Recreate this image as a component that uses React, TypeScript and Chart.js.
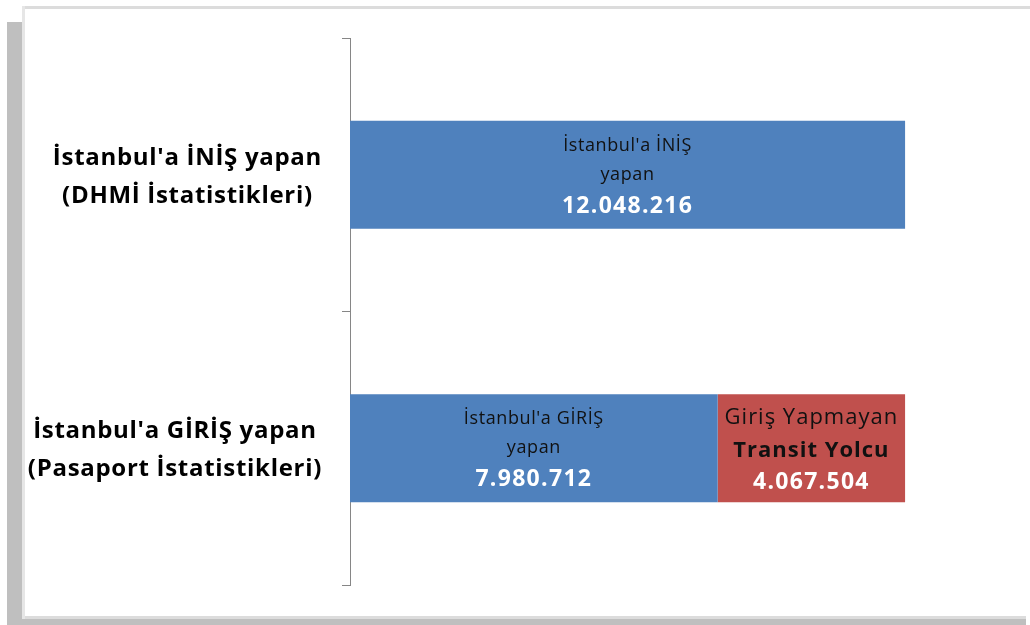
import React, { useEffect, useRef } from "react";
import { Chart, registerables } from "chart.js";

Chart.register(...registerables);

// ---- data ----
const categoryLabels: string[][] = [
  ["İstanbul'a İNİŞ yapan", "(DHMİ İstatistikleri)"],
  ["İstanbul'a GİRİŞ yapan", "(Pasaport İstatistikleri)"],
];
const arrivalValues: number[] = [12048216, 7980712];
const transitValues: (number | null)[] = [null, 4067504];
const arrivalPointLabels: string[][] = [
  ["İstanbul'a İNİŞ", "yapan"],
  ["İstanbul'a GİRİŞ", "yapan"],
];
const transitPointLabels: string[][] = [[], ["Giriş Yapmayan", "Transit Yolcu"]];
const xAxisMax = 14000000;

const FONT = "'Open Sans', 'Noto Sans', sans-serif";
const BLUE = "#4F81BD";
const RED = "#C0504D";

const fmt = (v: number) => String(v).replace(/\B(?=(\d{3})+(?!\d))/g, ".");

const setLS = (ctx: any, px: number) => {
  try {
    ctx.letterSpacing = px + "px";
  } catch (e) {}
};

const framePlugin = {
  id: "frame",
  beforeDraw(chart: any) {
    const ctx = chart.ctx;
    ctx.save();
    ctx.fillStyle = "#ffffff";
    ctx.fillRect(0, 0, chart.width, chart.height);
    // shadow
    ctx.fillStyle = "#bfbfbf";
    ctx.fillRect(7, 22, 16, 603);
    ctx.fillRect(7, 619, 1019, 6);
    // panel border
    ctx.fillStyle = "#dcdcdc";
    ctx.fillRect(22, 6, 1008, 3);
    ctx.fillRect(22, 616, 1004, 3);
    ctx.fillStyle = "#e6e6e6";
    ctx.fillRect(22, 6, 3, 613);
    ctx.restore();
  },
};

const categoryLabelPlugin = {
  id: "catLabels",
  afterDraw(chart: any) {
    const ctx = chart.ctx;
    const yScale = chart.scales.y;
    ctx.save();
    ctx.font = `bold 24px ${FONT}`;
    setLS(ctx, 0.7);
    ctx.fillStyle = "#000000";
    ctx.textAlign = "center";
    ctx.textBaseline = "alphabetic";
    const right = 322;
    categoryLabels.forEach((lines, i) => {
      const yc = yScale.getPixelForTick(i);
      const widest = Math.max(...lines.map((l) => ctx.measureText(l).width));
      const cx = right - widest / 2;
      ctx.fillText(lines[0], cx, yc - 10);
      ctx.fillText(lines[1], cx, yc + 28);
    });
    ctx.restore();
  },
};

const valueLabelPlugin = {
  id: "valueLabels",
  afterDatasetsDraw(chart: any) {
    const ctx = chart.ctx;
    ctx.save();
    ctx.textAlign = "center";
    ctx.textBaseline = "alphabetic";
    chart.data.datasets.forEach((ds: any, di: number) => {
      const meta = chart.getDatasetMeta(di);
      meta.data.forEach((el: any, i: number) => {
        const v = ds.data[i];
        if (v == null) return;
        const cx = (el.x + el.base) / 2;
        const cy = el.y;
        if (di === 0) {
          const lines = arrivalPointLabels[i];
          ctx.font = `18px ${FONT}`;
          setLS(ctx, 0.6);
          ctx.fillStyle = "#111111";
          ctx.fillText(lines[0], cx, cy - 24);
          ctx.fillText(lines[1], cx, cy + 5);
          ctx.font = `bold 23px ${FONT}`;
          setLS(ctx, 1.3);
          ctx.fillStyle = "#ffffff";
          ctx.fillText(fmt(v), cx, cy + 38);
        } else {
          const lines = transitPointLabels[i];
          ctx.font = `22px ${FONT}`;
          setLS(ctx, 1);
          ctx.fillStyle = "#111111";
          ctx.fillText(lines[0], cx, cy - 24);
          ctx.font = `bold 22px ${FONT}`;
          ctx.fillText(lines[1], cx, cy + 9);
          ctx.font = `bold 23px ${FONT}`;
          setLS(ctx, 1.3);
          ctx.fillStyle = "#ffffff";
          ctx.fillText(fmt(v), cx, cy + 41);
        }
      });
    });
    ctx.restore();
  },
};

export default function App() {
  const ref = useRef<HTMLCanvasElement | null>(null);
  useEffect(() => {
    document.body.style.margin = "0";
    const chart = new Chart(ref.current as HTMLCanvasElement, {
      type: "bar",
      data: {
        labels: categoryLabels.map((l) => l.join(" ")),
        datasets: [
          {
            label: "İstanbul'a giriş / iniş",
            data: arrivalValues,
            backgroundColor: BLUE,
            borderWidth: 0,
            barPercentage: 0.395,
            categoryPercentage: 1,
          },
          {
            label: "Transit Yolcu",
            data: transitValues,
            backgroundColor: RED,
            borderWidth: 0,
            barPercentage: 0.395,
            categoryPercentage: 1,
          },
        ],
      },
      options: {
        indexAxis: "y",
        animation: false,
        responsive: false,
        layout: { padding: { top: 38, bottom: 40, right: 35, left: 0 } },
        plugins: { legend: { display: false }, tooltip: { enabled: false } },
        scales: {
          x: {
            stacked: true,
            min: 0,
            max: xAxisMax,
            display: false,
          },
          y: {
            stacked: true,
            afterFit: (s: any) => {
              s.width = 350;
            },
            border: { display: true, color: "#868686", width: 1 },
            grid: {
              display: true,
              offset: true,
              drawOnChartArea: false,
              drawTicks: true,
              tickLength: 8,
              color: "#868686",
            },
            ticks: { callback: () => "" },
          },
        },
      },
      plugins: [framePlugin, categoryLabelPlugin, valueLabelPlugin],
    } as any);
    return () => chart.destroy();
  }, []);
  return <canvas ref={ref} width={1030} height={625} style={{ display: "block" }} />;
}
